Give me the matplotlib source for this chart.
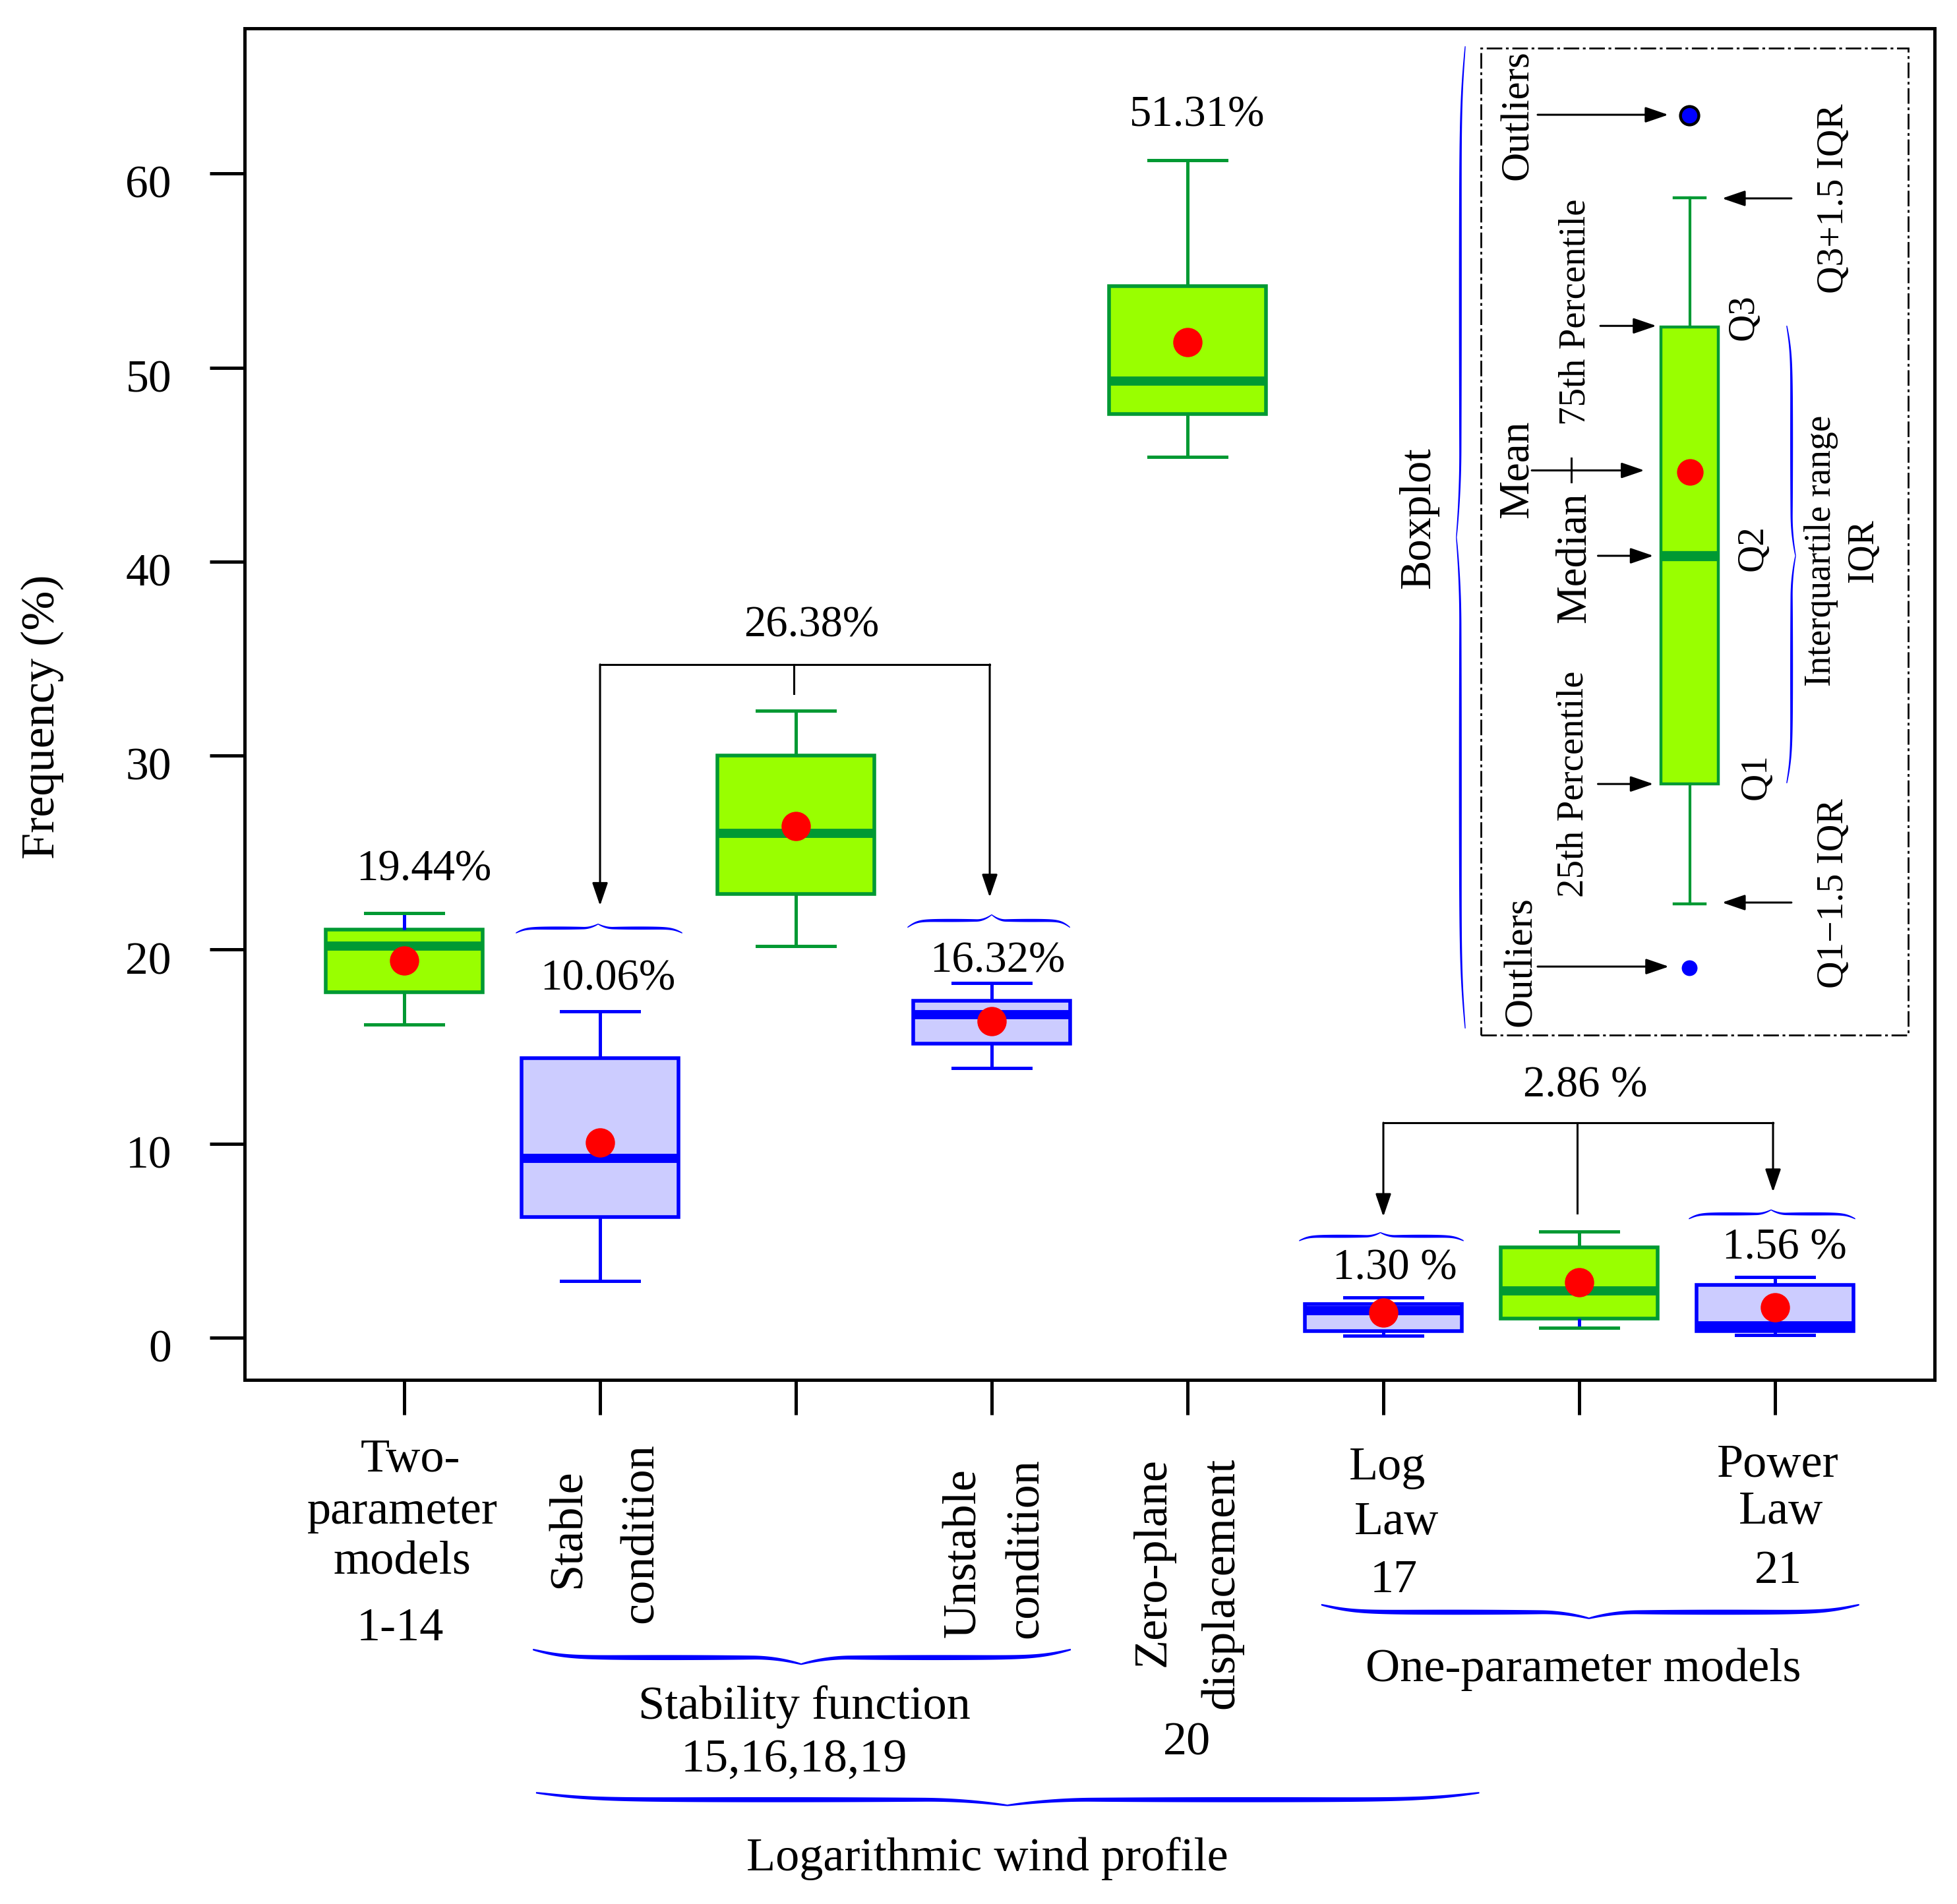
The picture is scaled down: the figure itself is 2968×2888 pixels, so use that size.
import numpy as np
import matplotlib
matplotlib.use("Agg")
import matplotlib.pyplot as plt
import matplotlib.transforms as mtransforms
from matplotlib.patches import Rectangle

plt.rcParams['font.family'] = ['Liberation Serif', 'DejaVu Serif']

# 그림에서 읽은 박스플롯 통계값 (8개 모델 그룹)
positions = [1, 2, 3, 4, 5, 6, 7, 8]
whislo = [16.15, 2.93, 20.2, 13.9, 45.4, 0.09, 0.52, 0.15]
q1 = [17.8, 6.22, 22.87, 15.15, 47.6, 0.35, 1.0, 0.35]
med = [20.2, 9.25, 25.98, 16.67, 49.3, 1.39, 2.43, 0.62]
q3 = [21.05, 14.4, 30.0, 17.38, 54.2, 1.75, 4.66, 2.71]
whishi = [21.9, 16.83, 32.3, 18.28, 60.7, 2.06, 5.46, 3.12]
means = [19.44, 10.06, 26.38, 16.32, 51.31, 1.30, 2.86, 1.56]
pct_labels = ['19.44%', '10.06%', '26.38%', '16.32%', '51.31%',
              '1.30 %', '2.86 %', '1.56 %']
yticks = [0, 10, 20, 30, 40, 50, 60]

# 범례 안의 예시 박스플롯
leg_whislo, leg_q1, leg_med, leg_q3, leg_whishi = 22.35, 28.55, 40.3, 52.1, 58.75
leg_mean = 44.6
leg_out_hi, leg_out_lo = 63.0, 19.05

# 색
G_FILL, G_EDGE = '#99FF00', '#009933'
B_FILL, B_EDGE = '#CCCCFF', '#0000FF'
RED = '#FF0000'
kind = ['g', 'b', 'g', 'b', 'g', 'b', 'g', 'b']

fig = plt.figure(figsize=(14.84, 14.44), dpi=200)
ax = fig.add_axes([0.125, 0.27528, 0.86355, 0.71])
ax.set_xlim(0.185, 8.815)
ax.set_ylim(-2.17, 67.5)

stats = [dict(whislo=a, q1=b, med=c, q3=d, whishi=e, fliers=[])
         for a, b, c, d, e in zip(whislo, q1, med, q3, whishi)]
bp = ax.bxp(stats, positions=positions, widths=0.8, capwidths=0.4,
            patch_artist=True, showfliers=False, manage_ticks=False,
            boxprops=dict(linewidth=2.0),
            whiskerprops=dict(linewidth=1.8, solid_capstyle='butt'),
            capprops=dict(linewidth=1.8),
            medianprops=dict(linewidth=5, solid_capstyle='butt'))
for i, k in enumerate(kind):
    fc, ec = (G_FILL, G_EDGE) if k == 'g' else (B_FILL, B_EDGE)
    bp['boxes'][i].set(facecolor=fc, edgecolor=ec)
    bp['medians'][i].set_color(ec)
    for j in (2 * i, 2 * i + 1):
        bp['whiskers'][j].set_color(ec)
        bp['caps'][j].set_color(ec)
# 원본에서 파란색으로 보이는 수염 두 개
bp['whiskers'][1].set_color(B_EDGE)
bp['whiskers'][12].set_color(B_EDGE)

ax.plot(positions, means, 'o', ms=16, color=RED, mec='none', zorder=6)

pct_x = [1.10, 2.04, 3.08, 4.03, 5.05, 6.06, 7.03, 8.05]
pct_y = [23.58, 17.92, 36.15, 18.86, 62.44, 3.01, 12.41, 4.05]
for t, x, y in zip(pct_labels, pct_x, pct_y):
    ax.text(x, y, t, fontsize=24, ha='center', va='baseline')

# 축 모양
ax.set_yticks(yticks)
ax.set_xticks(positions)
ax.tick_params(axis='y', length=19, width=1.8, labelsize=25, pad=21)
ax.tick_params(axis='x', length=19, width=1.8, labelbottom=False)
for sp in ax.spines.values():
    sp.set_linewidth(1.8)
down = mtransforms.ScaledTranslation(0, -4.5 / 72, fig.dpi_scale_trans)
for tk in ax.yaxis.get_major_ticks():
    tk.label1.set_transform(tk.label1.get_transform() + down)
ax.set_ylabel('Frequency (%)', fontsize=26)
ax.yaxis.label.set_va('center')
ax.yaxis.set_label_coords(-0.1198, 0.4906)


def arrow(x0, y0, x1, y1):
    ax.annotate('', xy=(x1, y1), xytext=(x0, y0), annotation_clip=False,
                arrowprops=dict(arrowstyle='-|>,head_length=0.76,head_width=0.26',
                                mutation_scale=14, lw=1.1, color='black',
                                shrinkA=0, shrinkB=0))


def brace(a0, a1, base, depth, thick, tip=None, vertical=False):
    if tip is None:
        tip = (a0 + a1) / 2
    s = np.linspace(0, 1, 150)
    h = 0.55 * np.tanh(s / 0.12) / np.tanh(1 / 0.12) + 0.45 * np.clip((s - 0.82) / 0.18, 0, 1) ** 2
    w = thick * (0.3 + 0.7 * np.sin(np.pi * s) ** 0.6)
    aL = a0 + (tip - a0) * s
    aR = a1 + (tip - a1) * s
    a = np.concatenate([aL, aR[::-1]])
    hh = np.concatenate([h, h[::-1]])
    ww = np.concatenate([w, w[::-1]])
    c = base + depth * hh
    pa = np.concatenate([a, a[::-1]])
    pc = np.concatenate([c + ww / 2, (c - ww / 2)[::-1]])
    if vertical:
        ax.fill(pc, pa, color=B_EDGE, lw=0, clip_on=False, zorder=4)
    else:
        ax.fill(pa, pc, color=B_EDGE, lw=0, clip_on=False, zorder=4)


# 안정도 함수 쪽 연결선
ax.plot([2.0, 3.99], [34.7, 34.7], color='black', lw=1.1)
ax.plot([2.99, 2.99], [34.7, 33.2], color='black', lw=1.1)
arrow(2.0, 34.7, 2.0, 22.27)
arrow(3.99, 34.7, 3.99, 22.7)
# 1-모수 모델 연결선
ax.plot([6.0, 7.99], [11.08, 11.08], color='black', lw=1.1)
ax.plot([6.99, 6.99], [11.08, 6.43], color='black', lw=1.1)
arrow(6.0, 11.08, 6.0, 6.24)
arrow(7.99, 11.08, 7.99, 7.51)

# 박스 위 중괄호
brace(1.57, 2.42, 20.86, 0.46, 0.16, tip=1.99)
brace(3.57, 4.40, 21.15, 0.65, 0.16, tip=4.0)
brace(5.57, 6.41, 5.0, 0.42, 0.16, tip=5.985)
brace(7.56, 8.41, 6.13, 0.46, 0.16, tip=7.98)

# 아래쪽 레이블
fs = 26
ax.text(1.03, -6.90, 'Two-', fontsize=fs, ha='center', va='baseline', clip_on=False)
ax.text(0.99, -9.58, 'parameter', fontsize=fs, ha='center', va='baseline', clip_on=False)
ax.text(0.99, -12.16, 'models', fontsize=fs, ha='center', va='baseline', clip_on=False)
ax.text(0.98, -15.6, '1-14', fontsize=fs, ha='center', va='baseline', clip_on=False)

rot = dict(fontsize=fs, rotation=90, rotation_mode='anchor', va='baseline', clip_on=False)
ax.text(1.897, -9.82, 'Stable', ha='center', **rot)
ax.text(2.269, -10.06, 'condition', ha='center', **rot)
ax.text(3.915, -11.1, 'Unstable', ha='center', **rot)
ax.text(4.236, -10.87, 'condition', ha='center', **rot)
ax.text(4.885, -6.18, 'Zero-plane', ha='right', **rot)
ax.text(5.234, -6.18, 'displacement', ha='right', **rot)
ax.text(4.995, -21.5, '20', fontsize=fs, ha='center', va='baseline', clip_on=False)

ax.text(6.022, -7.3, 'Log', fontsize=fs, ha='center', va='baseline', clip_on=False)
ax.text(6.067, -10.13, 'Law', fontsize=fs, ha='center', va='baseline', clip_on=False)
ax.text(6.054, -13.1, '17', fontsize=fs, ha='center', va='baseline', clip_on=False)
ax.text(8.013, -7.17, 'Power', fontsize=fs, ha='center', va='baseline', clip_on=False)
ax.text(8.03, -9.58, 'Law', fontsize=fs, ha='center', va='baseline', clip_on=False)
ax.text(8.017, -12.64, '21', fontsize=fs, ha='center', va='baseline', clip_on=False)

brace(1.657, 4.404, -16.07, -0.75, 0.26, tip=3.027)
ax.text(3.044, -19.64, 'Stability function', fontsize=fs, ha='center', va='baseline', clip_on=False)
ax.text(2.99, -22.36, '15,16,18,19', fontsize=fs, ha='center', va='baseline', clip_on=False)
brace(1.673, 6.49, -23.45, -0.65, 0.26, tip=4.08)
ax.text(3.976, -27.45, 'Logarithmic wind profile', fontsize=26, ha='center', va='baseline', clip_on=False)
brace(5.683, 8.43, -13.76, -0.7, 0.26, tip=7.05)
ax.text(7.02, -17.7, 'One-parameter models', fontsize=fs, ha='center', va='baseline', clip_on=False)

# 범례: 박스플롯 설명
ax.add_patch(Rectangle((6.498, 15.6), 8.68 - 6.498, 66.46 - 15.6, fill=False,
                       lw=1.0, ls=(0, (8.5, 2, 1.5, 2)), ec='black', zorder=3))
lp = ax.bxp([dict(whislo=leg_whislo, q1=leg_q1, med=leg_med, q3=leg_q3,
                  whishi=leg_whishi, fliers=[])], positions=[7.565], widths=0.293,
            capwidths=0.158, patch_artist=True, showfliers=False, manage_ticks=False,
            boxprops=dict(linewidth=1.6, facecolor=G_FILL, edgecolor=G_EDGE),
            whiskerprops=dict(linewidth=1.5, color=G_EDGE),
            capprops=dict(linewidth=1.6, color=G_EDGE),
            medianprops=dict(linewidth=5.5, color=G_EDGE, solid_capstyle='butt'))
ax.plot(7.565, leg_mean, 'o', ms=14.5, color=RED, mec='none', zorder=6)
ax.plot(7.562, leg_out_hi, 'o', ms=10, mfc=B_EDGE, mec='black', mew=1.6, zorder=6)
ax.plot(7.562, leg_out_lo, 'o', ms=8.6, color=B_EDGE, mec='none', zorder=6)

lrot = dict(rotation=90, rotation_mode='anchor', ha='center', va='baseline')
ax.text(6.737, 63.0, 'Outliers', fontsize=22, **lrot)
ax.text(6.754, 19.4, 'Outliers', fontsize=22, **lrot)
ax.text(6.737, 44.76, 'Mean', fontsize=23.5, **lrot)
ax.text(7.03, 52.85, '75th Percentile', fontsize=20.5, **lrot)
ax.text(7.03, 40.2, 'Median', fontsize=23.4, **lrot)
ax.text(7.02, 28.54, '25th Percentile', fontsize=20.5, **lrot)
ax.text(7.889, 52.6, 'Q3', fontsize=20.5, **lrot)
ax.text(7.936, 40.7, 'Q2', fontsize=20.5, **lrot)
ax.text(7.953, 28.9, 'Q1', fontsize=20.5, **lrot)
ax.text(8.347, 58.7, 'Q3+1.5 IQR', fontsize=20.7, **lrot)
ax.text(8.347, 22.9, 'Q1\u22121.5 IQR', fontsize=20.7, **lrot)
ax.text(8.283, 40.57, 'Interquartile range', fontsize=20, **lrot)
ax.text(8.498, 40.57, 'IQR', fontsize=20, **lrot)
ax.text(6.236, 42.24, 'Boxplot', fontsize=24, **lrot)

arrow(6.788, 63.03, 7.455, 63.03)
arrow(7.108, 52.15, 7.394, 52.15)
arrow(8.084, 58.72, 7.73, 58.72)
arrow(6.758, 44.7, 7.333, 44.7)
ax.plot([6.96, 6.96], [44.1, 45.33], color='black', lw=1.1)
arrow(7.096, 40.3, 7.379, 40.3)
arrow(7.096, 28.54, 7.379, 28.54)
arrow(8.084, 22.43, 7.73, 22.43)
arrow(6.788, 19.13, 7.458, 19.13)

brace(15.94, 66.56, 6.418, -0.045, 0.014, tip=41.25, vertical=True)
brace(28.58, 52.16, 8.06, 0.045, 0.014, tip=40.3, vertical=True)

fig.savefig('out.png', dpi=200)
